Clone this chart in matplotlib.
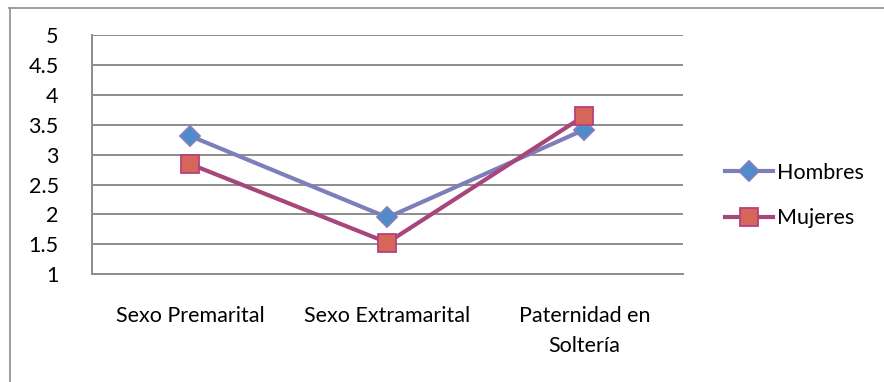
import numpy as np
import matplotlib
matplotlib.use("Agg")
import matplotlib.pyplot as plt
from matplotlib.lines import Line2D

# datos
categorias = ["Sexo Premarital", "Sexo Extramarital", "Paternidad en\nSoltería"]
hombres = [3.31, 1.95, 3.42]
mujeres = [2.84, 1.53, 3.65]
y_ticks = [1, 1.5, 2, 2.5, 3, 3.5, 4, 4.5, 5]
y_labels = ["1", "1.5", "2", "2.5", "3", "3.5", "4", "4.5", "5"]

W, H, DPI = 884, 382, 100
plt.rcParams["font.family"] = ["Lato", "DejaVu Sans"]
FS = 15.5

fig = plt.figure(figsize=(W / DPI, H / DPI), dpi=DPI)
ax = fig.add_axes((92 / W, 1 - 274.3 / H, (683 - 92) / W, (274.3 - 35) / H))

x = np.arange(len(categorias))
ax.plot(x, hombres, color="#7d7fb9", linewidth=3.0, marker="D", markersize=10.5,
        markerfacecolor="#4f8ccc", markeredgecolor="#7d7fb9", markeredgewidth=1.3,
        label="Hombres", zorder=3)
ax.plot(x, mujeres, color="#a8457a", linewidth=3.0, marker="s", markersize=12.5,
        markerfacecolor="#d4665a", markeredgecolor="#b8407e", markeredgewidth=1.3,
        label="Mujeres", zorder=4)

ax.set_xlim(-0.5, len(categorias) - 0.5)
ax.set_ylim(1, 5)
ax.set_yticks(y_ticks)
ax.set_yticklabels(y_labels)
ax.set_xticks(x)
ax.set_xticklabels(categorias, linespacing=1.6, ha="center", multialignment="center")
ax.tick_params(axis="y", length=0, pad=24, labelsize=FS)
ax.tick_params(axis="x", length=0, pad=23, labelsize=FS)

ax.grid(True, axis="y", color="#8c8c8c", linewidth=1.4, zorder=1)
for side in ["top", "right"]:
    ax.spines[side].set_visible(False)
ax.spines["left"].set_color("#8c8c8c")
ax.spines["left"].set_linewidth(1.4)
ax.spines["bottom"].set_color("#8c8c8c")
ax.spines["bottom"].set_linewidth(1.4)

fig.legend(loc="center left", bbox_to_anchor=(706 / W, 1 - 195.5 / H), frameon=False,
           fontsize=FS, handlelength=2.2, handletextpad=0.2, labelspacing=1.2)

# marco exterior del gráfico
fig.add_artist(Line2D([9.5 / W, 9.5 / W], [0, 1 - 8 / H], transform=fig.transFigure,
                      color="#8c8c8c", linewidth=1.2))
fig.add_artist(Line2D([9 / W, 1], [1 - 8 / H, 1 - 8 / H], transform=fig.transFigure,
                      color="#8c8c8c", linewidth=1.2))

fig.savefig("out.png", dpi=DPI)
